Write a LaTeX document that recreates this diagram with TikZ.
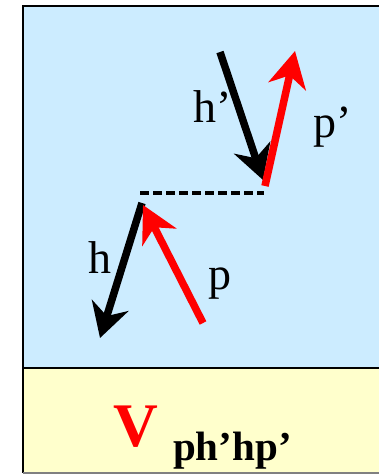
\documentclass[tikz,border=0pt]{standalone}
\usepackage{fontspec}
\setmainfont{Liberation Serif}
\usetikzlibrary{arrows.meta}
\definecolor{bgblue}{HTML}{CCECFF}
\definecolor{bgyellow}{HTML}{FFFFCC}
\begin{document}
\begin{tikzpicture}[x=1pt,y=-1pt,
  lbl/.style={anchor=base west,inner sep=0pt,font=\fontsize{46}{50}\selectfont},
  harrow/.style={line width=7.5pt,black,-{Stealth[length=34pt,width=38pt,inset=11pt]}},
  parrow/.style={line width=7.5pt,red,-{Stealth[length=36pt,width=38pt,inset=11pt]}}]
\useasboundingbox (0,0) rectangle (379,474);
\fill[white] (0,0) rectangle (379,474);
\fill[bgblue] (23,6) rectangle (379,368);
\fill[bgyellow] (23,368) rectangle (379,473);
\draw[line width=2pt] (379,6) -- (23,6) -- (23,473);
\draw[line width=2pt] (23,368) -- (379,368);
\draw[line width=1.5pt,gray] (23,473) -- (379,473);
% coordinates
\coordinate (hps) at (220,52);
\coordinate (hpt) at (263,180);
\coordinate (pps) at (265,186);
\coordinate (ppt) at (295,51);
\coordinate (dl) at (140,193);
\coordinate (dr) at (264,193);
\coordinate (hs) at (142,203);
\coordinate (ht) at (100,338);
\coordinate (ps) at (203,323);
\coordinate (pt) at (143,205);
\draw[line width=3.5pt,dash pattern=on 8.5pt off 4.5pt] (dl) -- (dr);
\draw[harrow] (hps) -- (hpt);
\draw[parrow] (pps) -- (ppt);
\draw[harrow] (hs) -- (ht);
\draw[parrow] (ps) -- (pt);
\node[lbl] (lhp) at (193,122) {h’};
\node[lbl] (lpp) at (313,137) {p’};
\node[lbl] (lh) at (88,273) {h};
\node[lbl] (lp) at (208,289) {p};
\node[anchor=base west,inner sep=0pt,text=red,font=\fontsize{62}{66}\selectfont\bfseries] (V) at (113,446) {V};
\node[anchor=base west,inner sep=0pt,font=\fontsize{41}{45}\selectfont\bfseries] (sub) at (173,460) {ph’hp’};
\end{tikzpicture}
\end{document}
